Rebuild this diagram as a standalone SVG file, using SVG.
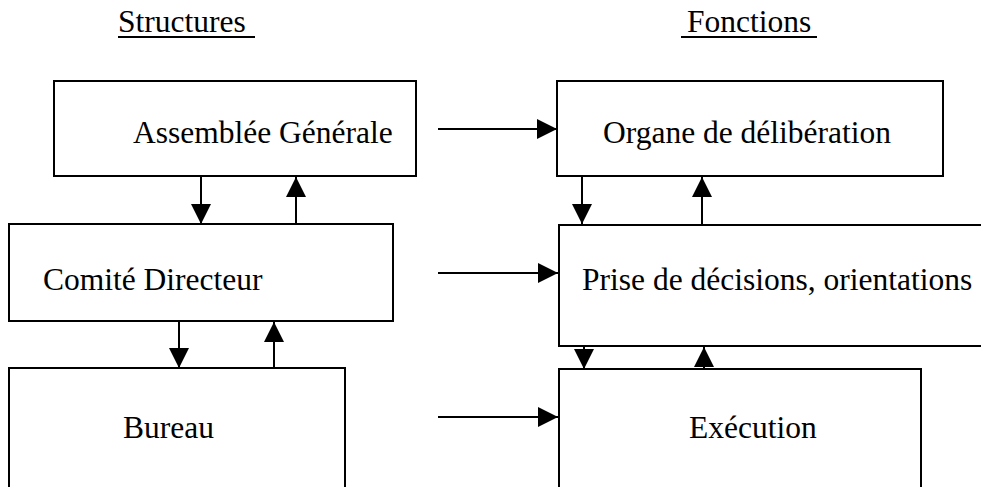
<svg xmlns="http://www.w3.org/2000/svg" width="981" height="487" viewBox="0 0 981 487">
  <style>
    .box { fill: #ffffff; stroke: #000000; stroke-width: 2; }
    .lbl { font-family: "Liberation Serif", "Times New Roman", serif; font-size: 31.5px; fill: #000000; }
    .ul { stroke: #000000; stroke-width: 2; }
    .con { stroke: #000000; stroke-width: 2; fill: none; marker-end: url(#arr); }
  </style>
  <defs>
    <marker id="arr" viewBox="0 0 20 20" markerWidth="20" markerHeight="20" markerUnits="userSpaceOnUse" refX="20" refY="10" orient="auto">
      <path d="M0,0 L20,10 L0,20 z" fill="#000000"/>
    </marker>
  </defs>
  <rect width="981" height="487" fill="#ffffff"/>

  <g id="header-structures">
    <text class="lbl" x="118" y="32">Structures</text>
    <line class="ul" x1="118" y1="37" x2="255" y2="37"/>
  </g>
  <g id="header-fonctions">
    <text class="lbl" x="687" y="32">Fonctions</text>
    <line class="ul" x1="681" y1="37" x2="817" y2="37"/>
  </g>

  <g id="assemblee">
    <rect class="box" x="54" y="81" width="362" height="95"/>
    <text class="lbl" x="133" y="143">Assemblée Générale</text>
  </g>
  <g id="organe">
    <rect class="box" x="557" y="81" width="386" height="95"/>
    <text class="lbl" x="603" y="143">Organe de délibération</text>
  </g>
  <g id="comite">
    <rect class="box" x="9" y="224" width="384" height="97"/>
    <text class="lbl" x="43" y="290">Comité Directeur</text>
  </g>
  <g id="prise">
    <rect class="box" x="559" y="225" width="440" height="121"/>
    <text class="lbl" x="582" y="290">Prise de décisions, orientations</text>
  </g>
  <g id="bureau">
    <rect class="box" x="9" y="368" width="336" height="140"/>
    <text class="lbl" x="123" y="438">Bureau</text>
  </g>
  <g id="execution">
    <rect class="box" x="559" y="369" width="362" height="140"/>
    <text class="lbl" x="689" y="438">Exécution</text>
  </g>

  <g id="connectors">
    <line class="con" x1="438" y1="129" x2="557" y2="129"/>
    <line class="con" x1="438" y1="273" x2="558" y2="273"/>
    <line class="con" x1="438" y1="417" x2="558" y2="417"/>

    <line class="con" x1="201" y1="176" x2="201" y2="224"/>
    <line class="con" x1="296" y1="224" x2="296" y2="177"/>
    <line class="con" x1="179" y1="321" x2="179" y2="368"/>
    <line class="con" x1="274" y1="368" x2="274" y2="322"/>

    <line class="con" x1="582" y1="176" x2="582" y2="224"/>
    <line class="con" x1="702" y1="224" x2="702" y2="177"/>
    <line class="con" x1="584" y1="346" x2="584" y2="369"/>
    <line class="con" x1="704" y1="369" x2="704" y2="347"/>
  </g>
</svg>
